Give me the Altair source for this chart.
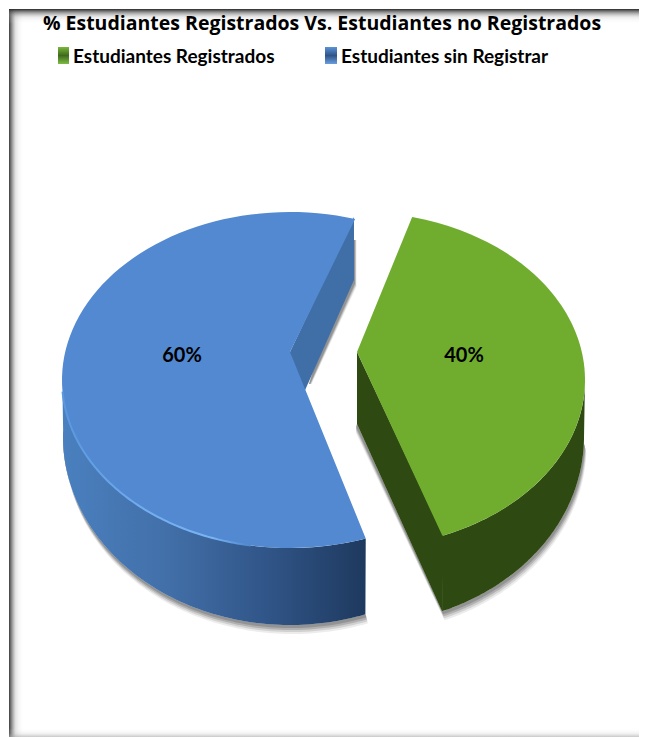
import math
import altair as alt
import pandas as pd

# --- values ---
categories = ["Estudiantes Registrados", "Estudiantes  sin Registrar"]
shares = [40, 60]
share_labels = ["40%", "60%"]
title_text = "% Estudiantes Registrados Vs. Estudiantes no Registrados"

# --- projection of the tilted 3D pie (page pixel units) ---
RX_TOP, RY_TOP, CY_TOP = 228, 168, 380
RX_BOT, RY_BOT, CY_BOT = 227, 188, 437
CX_GREEN, CX_BLUE = 357, 290
APEX_TOP, APEX_BOT = 352, 424
GREEN_START, BLUE_START = 14, 160.6

green_end = GREEN_START + shares[0] * 3.6
blue_end = BLUE_START + shares[1] * 3.6


def arc(cx, cy, rx, ry, t0, t1, n=90):
    out = []
    for i in range(n + 1):
        t = math.radians(t0 + (t1 - t0) * i / n)
        out.append((cx + rx * math.sin(t), cy - ry * math.cos(t)))
    return out


def top(cx, t0, t1):
    return arc(cx, CY_TOP, RX_TOP, RY_TOP, t0, t1)


def bot(cx, t0, t1, dx=0, dy=0):
    return [(x + dx, y + dy) for x, y in arc(cx, CY_BOT, RX_BOT, RY_BOT, t0, t1)]


x_scale = alt.Scale(domain=[8, 639], range=[0, 631])
y_scale = alt.Scale(domain=[8, 737], range=[0, 729])
X = alt.X("x:Q", scale=x_scale, axis=None)
Y = alt.Y("y:Q", scale=y_scale, axis=None)


def poly(points, **mark):
    df = pd.DataFrame([{"x": p[0], "y": p[1], "i": i} for i, p in enumerate(points + points[:1])])
    return alt.Chart(df).mark_line(strokeWidth=0, interpolate="linear", **mark).encode(
        x=X, y=Y, order="i:Q"
    )


def hgrad(*stops):
    return alt.Gradient(gradient="linear", x1=0, x2=1, y1=0, y2=0,
                        stops=[alt.GradientStop(offset=o, color=c) for o, c in stops])


def vgrad(*stops):
    return alt.Gradient(gradient="linear", x1=0, x2=0, y1=0, y2=1,
                        stops=[alt.GradientStop(offset=o, color=c) for o, c in stops])


def rect(x0, x1, y0, y1, fill):
    df = pd.DataFrame([{"x": x0, "x2": x1, "y": y0, "y2": y1}])
    return alt.Chart(df).mark_rect(fill=fill, strokeWidth=0).encode(
        x=X, x2="x2:Q", y=Y, y2="y2:Q"
    )


def text(xv, yv, s, size, font, align="left", weight="bold"):
    df = pd.DataFrame([{"x": xv, "y": yv, "t": s}])
    return alt.Chart(df).mark_text(
        fontSize=size, font=font, fontWeight=weight, align=align, baseline="alphabetic", color="#000000"
    ).encode(x=X, y=Y, text="t:N")


layers = []

# frame
layers.append(rect(9, 24, 9, 737, hgrad((0, "rgba(60,60,60,1)"), (0.14, "rgba(90,90,90,0.8)"), (0.45, "rgba(150,150,150,0.25)"), (1, "rgba(255,255,255,0)"))))
layers.append(rect(9, 639, 9, 24, vgrad((0, "rgba(40,40,40,1)"), (0.2, "rgba(90,90,90,0.7)"), (0.55, "rgba(170,170,170,0.22)"), (1, "rgba(255,255,255,0)"))))
layers.append(rect(9, 639, 728, 737, vgrad((0, "rgba(255,255,255,0)"), (0.6, "rgba(190,190,190,0.2)"), (1, "rgba(170,170,170,0.65)"))))

# soft shadows under the walls
for dx, dy, op in [(2.5, 9, 0.15), (2, 7, 0.25), (1.5, 5, 0.4), (1, 3, 0.6)]:
    layers.append(poly(bot(CX_BLUE, 160.6, 272, dx, dy) + bot(CX_BLUE, 272, 160.6), fill="#808080", opacity=op))
    layers.append(poly(bot(CX_GREEN, 92, 158, dx, dy) + [(CX_GREEN - 1, APEX_BOT + dy), (CX_GREEN, APEX_BOT)]
                       + bot(CX_GREEN, 158, 92), fill="#808080", opacity=op))
    layers.append(poly([(354, 240), (354 + dx, 240), (354 + dx, 282 + dy / 2), (309 + dx, 384), (309, 384)],
                       fill="#808080", opacity=op))

# blue slice
layers.append(poly([(354, 217), (354, 280), (CX_BLUE, APEX_BOT), (CX_BLUE, APEX_TOP)], fill="#3f6fa6"))
layers.append(poly(top(CX_BLUE, BLUE_START, 272) + bot(CX_BLUE, 272, BLUE_START),
                   fill=hgrad((0, "#4a80bf"), (0.35, "#426fa8"), (0.7, "#2f5385"), (1, "#1e395e"))))
layers.append(poly([(CX_BLUE, APEX_TOP)] + top(CX_BLUE, BLUE_START, blue_end), fill="#5289d1"))
rim = pd.DataFrame([{"x": p[0], "y": p[1], "i": i} for i, p in enumerate(top(CX_BLUE, 190, 266))])
layers.append(alt.Chart(rim).mark_line(strokeWidth=2, stroke=hgrad(
    (0, "#5a97de"), (0.45, "#72aef0"), (0.8, "#79b5f5"), (1, "#4f86cd"))).encode(x=X, y=Y, order="i:Q"))

# green slice
layers.append(poly([(CX_GREEN, APEX_TOP), (CX_GREEN, APEX_BOT)] + bot(CX_GREEN, 158, 158) + [(444, 537)], fill="#2e4a12"))
layers.append(poly(top(CX_GREEN, 90, green_end) + bot(CX_GREEN, green_end, 90), fill="#2e4a12"))
layers.append(poly([(CX_GREEN, APEX_TOP)] + top(CX_GREEN, GREEN_START, green_end), fill="#70ad2f"))

# legend
layers.append(rect(58, 69, 47, 64, vgrad((0, "#79b83a"), (0.5, "#3f6a1c"), (1, "#7fbd45"))))
layers.append(rect(325, 337, 47, 64, vgrad((0, "#5b93d8"), (0.5, "#2f5486"), (1, "#6a9fe0"))))
SANS = "Lato"
layers.append(text(73, 63, categories[0], 19, SANS))
layers.append(text(341, 63, categories[1], 19, SANS))

# percent labels
layers.append(text(182, 362, share_labels[1], 20, SANS, align="center"))
layers.append(text(464, 362, share_labels[0], 20, SANS, align="center"))

# title, moved just inside the top of the drawing area
layers.append(text(322, 30, title_text, 19.5, "Open Sans", align="center"))

chart = alt.layer(*layers).properties(
    width=631,
    height=729,
    padding=0,
    autosize=alt.AutoSizeParams(type="none"),
    background="#ffffff",
).configure_view(stroke=None)

chart.save("out.html", embed_options={"renderer": "svg", "actions": False})
